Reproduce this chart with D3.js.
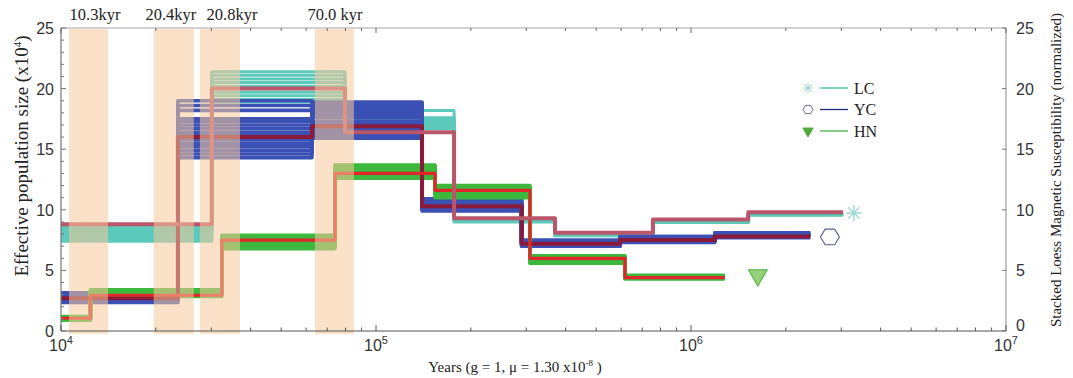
<!DOCTYPE html>
<html>
<head>
<meta charset="utf-8">
<script src="https://cdn.jsdelivr.net/npm/d3@7"></script>
<style>
  body { margin: 0; background: #fff; }
  svg { display: block; }
  .serif { font-family: "Liberation Serif", "DejaVu Serif", serif; fill: #222; }
  .tick-lbl { font-family: "Liberation Sans", Arial, sans-serif; font-size: 16px; fill: #333; }
</style>
</head>
<body>
<div id="graph"></div>
<script>
// ---- values (years, Ne x10^4) ----

// LC : main line + bootstraps
const lcTimes = [10000, 30100, 79700, 177000, 370000, 757000, 1520000, 3040000];
const lcMain = [8.8, 20.0, 16.4, 9.3, 8.1, 9.2, 9.8];
const lcBoot = [
  [7.4, 21.4, 18.2, 9.1, 7.9, 9.0, 9.6],
  [7.6, 21.1, 17.6, 9.2, 8.0, 9.0, 9.65],
  [7.8, 20.8, 17.4, 9.2, 7.95, 9.05, 9.6],
  [7.95, 20.5, 17.2, 9.1, 7.9, 9.0, 9.7],
  [8.1, 20.2, 17.0, 9.2, 8.0, 8.95, 9.6],
  [8.25, 19.7, 16.8, 9.0, 7.9, 9.0, 9.65],
  [8.4, 19.4, 17.5, 9.1, 7.85, 9.05, 9.6],
  [8.55, 19.1, 17.3, 9.2, 7.95, 9.0, 9.7],
  [7.7, 18.9, 16.7, 9.1, 8.0, 9.0, 9.6]
];

// YC
const ycTimes = [10000, 23500, 62600, 140000, 290000, 595000, 1190000, 2390000];
const ycMain = [2.7, 16.0, 16.9, 10.3, 7.2, 7.5, 7.8];
const ycBoot = [
  [2.35, 14.3, 15.9, 9.9, 7.0, 7.3, 7.7],
  [2.45, 14.6, 16.1, 10.0, 7.0, 7.4, 7.8],
  [2.5, 14.9, 16.4, 10.1, 7.1, 7.4, 7.8],
  [2.6, 15.2, 16.6, 10.2, 7.1, 7.5, 7.9],
  [2.65, 15.5, 16.9, 10.3, 7.2, 7.5, 7.9],
  [2.7, 15.8, 17.1, 10.4, 7.2, 7.6, 7.9],
  [2.75, 16.1, 17.3, 10.5, 7.3, 7.6, 8.0],
  [2.8, 16.4, 17.6, 10.6, 7.3, 7.7, 8.0],
  [2.9, 16.7, 17.8, 10.7, 7.4, 7.7, 8.0],
  [2.95, 17.0, 18.0, 10.8, 7.4, 7.8, 8.1],
  [3.0, 17.3, 18.2, 10.9, 7.5, 7.8, 8.1],
  [3.1, 17.5, 18.4, 10.6, 7.3, 7.6, 8.0],
  [3.15, 18.2, 18.6, 10.4, 7.2, 7.5, 7.9],
  [2.55, 18.6, 18.8, 10.2, 7.1, 7.5, 7.9],
  [2.85, 19.0, 18.9, 10.0, 7.0, 7.4, 7.8]
];

// HN
const hnTimes = [10000, 12400, 32400, 74100, 154000, 308000, 617000, 1280000];
const hnMain = [1.05, 2.95, 7.5, 13.0, 11.6, 6.0, 4.4];
const hnBoot = [
  [0.9, 2.85, 6.8, 12.6, 11.0, 5.6, 4.3],
  [0.95, 2.95, 7.0, 12.8, 11.2, 5.7, 4.35],
  [1.0, 3.05, 7.15, 12.95, 11.35, 5.8, 4.4],
  [1.05, 3.1, 7.3, 13.1, 11.5, 5.9, 4.45],
  [1.1, 3.2, 7.45, 13.25, 11.65, 6.0, 4.5],
  [1.15, 3.3, 7.6, 13.4, 11.8, 6.1, 4.55],
  [1.2, 3.4, 7.75, 13.55, 11.9, 6.15, 4.6],
  [1.0, 3.35, 7.9, 13.7, 12.0, 6.2, 4.5]
];

// glacial bands
const bandStart = [10600, 19700, 27600, 64000];
const bandEnd = [14100, 26400, 37000, 85100];
const bandLabels = ["10.3kyr", "20.4kyr", "20.8kyr", "70.0 kyr"];
const bandLabelAt = [12820, 22330, 34890, 74100];

// end markers: [years, value]
const markerNames = ["LC", "YC", "HN"];
const markerPos = [[3290000, 9.74], [2760000, 7.76], [1630000, 4.6]];

const yTicks = [0, 5, 10, 15, 20, 25];
const xDecades = [4, 5, 6, 7];

// ---- layout ----
const W = 1073, H = 378;
const mLeft = 61, mRight = 1006, mTop = 28, mBottom = 331;

const svg = d3.select("#graph").append("svg")
  .attr("width", W).attr("height", H);

const x = d3.scaleLog().domain([1e4, 1e7]).range([mLeft, mRight]);
const y = d3.scaleLinear().domain([0, 25]).range([mBottom, mTop]);

svg.append("clipPath").attr("id", "plot")
  .append("rect").attr("x", mLeft).attr("y", mTop - 2)
  .attr("width", mRight - mLeft).attr("height", mBottom - mTop + 6);

const g = svg.append("g").attr("clip-path", "url(#plot)");

// step line (PSMC style)
const line = d3.line()
  .x(d => x(d[0])).y(d => y(d[1]))
  .curve(d3.curveStepAfter);

function steps(times, vals) {
  const pts = vals.map((v, i) => [times[i], v]);
  pts.push([times[times.length - 1], vals[vals.length - 1]]);
  return pts;
}

function drawSet(times, set, color, w) {
  g.append("g").selectAll("path")
    .data(set).enter().append("path")
    .attr("d", d => line(steps(times, d)))
    .attr("fill", "none")
    .attr("stroke", color)
    .attr("stroke-width", w)
    .attr("stroke-linejoin", "round");
}

// bootstraps first, mains on top
drawSet(lcTimes, lcBoot, "#5ccabb", 3);
drawSet(ycTimes, ycBoot, "#3a50b4", 3.6);
drawSet(hnTimes, hnBoot, "#3cb93c", 3.6);
drawSet(ycTimes, [ycMain], "#8a1a3a", 4);
drawSet(hnTimes, [hnMain], "#e0262a", 3.2);
drawSet(lcTimes, [lcMain], "#b9566a", 4);

// bands over the curves, semi transparent
svg.append("g").selectAll("rect")
  .data(bandStart).enter().append("rect")
  .attr("x", d => x(d))
  .attr("width", (d, i) => x(bandEnd[i]) - x(d))
  .attr("y", mTop + 1)
  .attr("height", mBottom - mTop + 2)
  .attr("fill", "#f8c89a")
  .attr("opacity", 0.55);

svg.append("g").selectAll("text")
  .data(bandLabels).enter().append("text")
  .attr("class", "serif")
  .attr("x", (d, i) => x(bandLabelAt[i]))
  .attr("y", 20)
  .attr("text-anchor", "middle")
  .style("font-size", "16.5px")
  .text(d => d);

// ---- frame and ticks ----
const frame = svg.append("g");
frame.append("line").attr("x1", mLeft).attr("x2", mRight).attr("y1", mTop).attr("y2", mTop)
  .attr("stroke", "#c4c4c4").attr("stroke-width", 1.5);
frame.append("line").attr("x1", mRight).attr("x2", mRight).attr("y1", mTop).attr("y2", mBottom)
  .attr("stroke", "#b0b0b0").attr("stroke-width", 1.5);
frame.append("line").attr("x1", mLeft).attr("x2", mLeft).attr("y1", mTop).attr("y2", mBottom)
  .attr("stroke", "#777").attr("stroke-width", 1.2);
frame.append("line").attr("x1", mLeft).attr("x2", mRight).attr("y1", mBottom).attr("y2", mBottom)
  .attr("stroke", "#555").attr("stroke-width", 1.2);

// log ticks on bottom (pointing up) and top (pointing down)
const logTicks = x.ticks();
const isDecade = d => Math.abs(Math.log10(d) - Math.round(Math.log10(d))) < 1e-6;
frame.selectAll(".bt").data(logTicks).enter().append("line")
  .attr("x1", d => x(d)).attr("x2", d => x(d))
  .attr("y1", mBottom).attr("y2", d => mBottom - (isDecade(d) ? 6 : 3.5))
  .attr("stroke", "#555");
frame.selectAll(".tt").data(logTicks).enter().append("line")
  .attr("x1", d => x(d)).attr("x2", d => x(d))
  .attr("y1", mTop).attr("y2", d => mTop + (isDecade(d) ? 5 : 3))
  .attr("stroke", "#666");

// left minor ticks every unit
frame.selectAll(".lt").data(d3.range(0, 26)).enter().append("line")
  .attr("x1", mLeft).attr("x2", d => mLeft + (d % 5 === 0 ? 5 : 3))
  .attr("y1", d => y(d)).attr("y2", d => y(d))
  .attr("stroke", "#777");
frame.selectAll(".rt").data(yTicks).enter().append("line")
  .attr("x1", mRight - 4).attr("x2", mRight)
  .attr("y1", d => y(d)).attr("y2", d => y(d))
  .attr("stroke", "#777");

// tick labels
svg.append("g").selectAll("text").data(yTicks).enter().append("text")
  .attr("class", "tick-lbl")
  .attr("x", 54).attr("y", d => y(d) + 6)
  .attr("text-anchor", "end").text(d => d);
svg.append("g").selectAll("text").data(yTicks).enter().append("text")
  .attr("class", "tick-lbl")
  .attr("x", 1016).attr("y", d => y(d) + (d === 0 ? 0 : 6))
  .text(d => d);

const xl = svg.append("g").selectAll("text").data(xDecades).enter().append("text")
  .attr("class", "tick-lbl")
  .attr("x", d => x(Math.pow(10, d)) - 12).attr("y", 351);
xl.append("tspan").text("10");
xl.append("tspan").attr("dy", -7).style("font-size", "11px").text(d => d);

// axis titles
const xt = svg.append("text").attr("class", "serif")
  .attr("x", 515).attr("y", 372).attr("text-anchor", "middle")
  .style("font-size", "15px");
xt.append("tspan").text("Years (g = 1, \u03bc = 1.30 x10");
xt.append("tspan").attr("dy", -6).style("font-size", "9px").text("-8");
xt.append("tspan").attr("dy", 6).text(" )");

const yl = svg.append("text").attr("class", "serif")
  .attr("transform", "translate(28,156)rotate(-90)")
  .attr("text-anchor", "middle")
  .style("font-size", "19px");
yl.append("tspan").text("Effective population size (x10");
yl.append("tspan").attr("dy", -7).style("font-size", "11px").text("4");
yl.append("tspan").attr("dy", 7).text(")");

svg.append("text").attr("class", "serif")
  .attr("transform", "translate(1061,170)rotate(-90)")
  .attr("text-anchor", "middle")
  .style("font-size", "15px")
  .text("Stacked Loess Magnetic Susceptibility (normalized)");

// ---- markers ----
function asterisk(r) {
  let p = "";
  [0, 45, 90, 135].forEach(a => {
    const c = Math.cos(a * Math.PI / 180) * r, s = Math.sin(a * Math.PI / 180) * r;
    p += "M" + (-c) + "," + (-s) + "L" + c + "," + s;
  });
  return p;
}
function hexagon(r) {
  const pts = d3.range(6).map(i => [Math.cos(i * Math.PI / 3) * r, Math.sin(i * Math.PI / 3) * r * 0.95]);
  return "M" + pts.join("L") + "Z";
}
const triangle = d3.symbol().type(d3.symbolTriangle);

const markerStyle = [
  { d: asterisk(8), fill: "none", stroke: "#9ed9d2", sw: 1.4, rot: 0 },
  { d: hexagon(9.5), fill: "none", stroke: "#555d80", sw: 1.1, rot: 0 },
  { d: triangle.size(150)(), fill: "#95d27a", stroke: "#5fb94a", sw: 1.2, rot: 180 }
];

svg.append("g").selectAll("path").data(markerPos).enter().append("path")
  .attr("transform", (d, i) => "translate(" + x(d[0]) + "," + y(d[1]) + ")rotate(" + markerStyle[i].rot + ")")
  .attr("d", (d, i) => markerStyle[i].d)
  .attr("fill", (d, i) => markerStyle[i].fill)
  .attr("stroke", (d, i) => markerStyle[i].stroke)
  .attr("stroke-width", (d, i) => markerStyle[i].sw);

// legend
const legendColors = ["#3fc0a2", "#1c2a82", "#44b044"];
const legendMark = [
  { d: asterisk(4.5), fill: "none", stroke: "#8fd3c8", sw: 1, rot: 0 },
  { d: hexagon(5), fill: "none", stroke: "#6a7090", sw: 1, rot: 0 },
  { d: triangle.size(45)(), fill: "#4caa3c", stroke: "#4caa3c", sw: 1, rot: 180 }
];
const lg = svg.append("g").selectAll("g").data(markerNames).enter().append("g")
  .attr("transform", (d, i) => "translate(808," + (88 + i * 21.5) + ")");
lg.append("path")
  .attr("d", (d, i) => legendMark[i].d)
  .attr("transform", (d, i) => "rotate(" + legendMark[i].rot + ")")
  .attr("fill", (d, i) => legendMark[i].fill)
  .attr("stroke", (d, i) => legendMark[i].stroke)
  .attr("stroke-width", (d, i) => legendMark[i].sw);
lg.append("line").attr("x1", 12).attr("x2", 40).attr("y1", 0).attr("y2", 0)
  .attr("stroke", (d, i) => legendColors[i]).attr("stroke-width", 1.3);
lg.append("text").attr("class", "serif")
  .attr("x", 46).attr("y", 5.5)
  .style("font-size", "16px")
  .text(d => d);
</script>
</body>
</html>
